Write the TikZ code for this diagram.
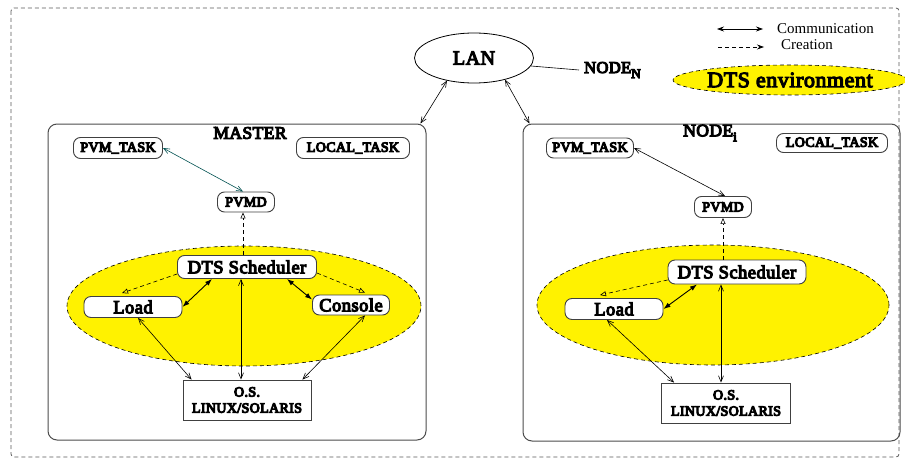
\documentclass[tikz,border=0pt]{standalone}
\usepackage{fontspec}
\setmainfont{Liberation Serif}
\newfontfamily\heavyface{Liberation Serif}[LetterSpace=2.5]
% heavy text: regular outlines filled and stroked (render mode 2)
\newcommand\heavy[1]{\heavyface\fontsize{#1}{#1}\selectfont\special{pdf:literal direct 2 Tr 1.1 w}}
\usetikzlibrary{arrows.meta,shapes.geometric,calc}

\begin{document}
\begin{tikzpicture}[x=1pt,y=-1pt,
  box/.style={draw=black!75,line width=0.9pt,rounded corners=7pt,fill=white,inner sep=0pt,
    font=\heavy{14}},
  bigbox/.style={box,font=\heavy{18.5}},
  host/.style={draw=black!70,line width=1pt,rounded corners=9pt,inner sep=0pt},
  osbox/.style={draw=black!75,line width=0.9pt,fill=white,inner sep=0pt,align=center,
    font=\heavy{14}\linespread{1.15}\selectfont},
  env/.style={ellipse,draw,dash pattern=on 4pt off 3pt,fill=yellow,line width=0.6pt,inner sep=0pt},
  title/.style={font=\heavy{17.5},inner sep=0pt},
  comm/.style={line width=0.6pt,{Straight Barb[length=6pt,width=5pt]}-{Straight Barb[length=6pt,width=5pt]}},
  commb/.style={line width=0.9pt,{Latex[length=7pt,width=5pt]}-{Latex[length=7pt,width=5pt]}},
  crea/.style={line width=0.6pt,dash pattern=on 4pt off 3pt,-{Triangle[open,length=6pt,width=5pt]}},
]
\useasboundingbox (0,0) rectangle (905,460);

% outer frame
\draw[black!65,line width=0.8pt,dash pattern=on 4pt off 3pt,rounded corners=3pt] (11,8) rectangle (899,457);

% legend
\coordinate (lc1) at (717,29);
\coordinate (lc2) at (763,29);
\coordinate (lr1) at (718,47);
\coordinate (lr2) at (764,47);
\draw[line width=0.7pt,{Stealth[length=7pt,width=5pt]}-{Stealth[length=7pt,width=5pt]}] (lc1) -- (lc2);
\draw[line width=0.7pt,dash pattern=on 4pt off 3pt,-{Stealth[length=7pt,width=5pt]}] (lr1) -- (lr2);
\node[anchor=west,inner sep=0pt,font=\fontsize{15}{15}\selectfont] (lcomm) at (777,29) {Communication};
\node[anchor=west,inner sep=0pt,font=\fontsize{15}{15}\selectfont] (lcrea) at (781,45) {Creation};
\node[env,minimum width=220pt,minimum height=30pt,font=\heavy{22}] (lenv) at (790,80) {DTS environment};

% LAN
\node[ellipse,draw,line width=0.8pt,minimum width=119pt,minimum height=50pt,inner sep=0pt,
  font=\heavy{20}] (lan) at (474,58) {LAN};
\node[anchor=west,inner sep=0pt,font=\heavy{16.5}] (noden) at (584,70)
  {NODE\raisebox{-5pt}{\fontsize{13}{13}\selectfont N}};
\draw[line width=0.6pt] (lan.-8) -- ([xshift=-5pt]noden.west);

% hosts
\node[host,minimum width=378pt,minimum height=316pt] (master) at (237,282) {};
\node[host,minimum width=377pt,minimum height=317pt] (nodei) at (711.5,282.5) {};
\node[title] (mtitle) at (250,133) {MASTER};
\node[title] (ntitle) at (710,133) {NODE\raisebox{-5pt}{\fontsize{13}{13}\selectfont i}};

\draw[comm] (lan.-140) -- ([xshift=-6pt]master.north east);
\draw[comm] (lan.-35) -- ([xshift=7pt]nodei.north west);

% ---- master contents
\node[env,minimum width=354pt,minimum height=120pt] (envM) at (244,306) {};
\node[box,minimum width=89pt,minimum height=21pt] (ptM) at (118,148) {PVM\_TASK};
\node[box,minimum width=113pt,minimum height=21pt] (ltM) at (353,148) {LOCAL\_TASK};
\node[box,minimum width=57pt,minimum height=20pt] (pvmdM) at (246,202) {PVMD};
\node[bigbox,minimum width=139pt,minimum height=23pt] (schedM) at (247,267) {DTS Scheduler};
\node[bigbox,minimum width=98pt,minimum height=21pt] (loadM) at (133,307) {Load};
\node[bigbox,minimum width=77pt,minimum height=20pt] (consM) at (351,305) {Console};
\node[osbox,minimum width=128pt,minimum height=40pt] (osM) at (247,400) {O.S.\\LINUX/SOLARIS};

\draw[comm,draw={rgb,255:red,0;green,80;blue,80}] (ptM.east) -- ([xshift=-3pt]pvmdM.north);
\draw[crea] (schedM.north -| pvmdM.south) ++(-3,0) -- ([xshift=-3pt]pvmdM.south);
\draw[crea] ([yshift=-7pt]schedM.west) -- ([xshift=-11pt,yshift=3pt]loadM.north);
\draw[commb] ([xshift=-35pt]schedM.south) -- (loadM.east);
\draw[comm] ([xshift=-6pt]schedM.south) -- ([xshift=-6pt]osM.north);
\draw[commb] ([xshift=40pt]schedM.south) -- ([yshift=-5pt]consM.north west);
\draw[crea] ([yshift=-6pt]schedM.east) -- ([xshift=14pt,yshift=2pt]consM.north);
\draw[comm] ([xshift=5pt]loadM.south) -- ([xshift=9pt]osM.north west);
\draw[comm] ([xshift=14pt]consM.south) -- ([xshift=-9pt]osM.north east);

% ---- node i contents
\node[env,minimum width=352pt,minimum height=120pt] (envN) at (713,305) {};
\node[box,minimum width=87pt,minimum height=20pt] (ptN) at (590,148) {PVM\_TASK};
\node[box,minimum width=111pt,minimum height=19pt] (ltN) at (832,143) {LOCAL\_TASK};
\node[box,minimum width=57pt,minimum height=21pt] (pvmdN) at (723,207) {PVMD};
\node[bigbox,minimum width=138pt,minimum height=24pt] (schedN) at (737,272) {DTS Scheduler};
\node[bigbox,minimum width=98pt,minimum height=21pt] (loadN) at (614,309) {Load};
\node[osbox,minimum width=129pt,minimum height=40pt] (osN) at (726,403) {O.S.\\LINUX/SOLARIS};

\draw[comm] (ptN.east) -- ([xshift=2pt]pvmdN.north);
\draw[crea] (pvmdN.south |- schedN.north) -- (pvmdN.south);
\draw[crea] ([yshift=-8pt]schedN.west) -- ([xshift=-14pt,yshift=3pt]loadN.north);
\draw[commb] ([xshift=-40pt]schedN.south) -- (loadN.east);
\draw[comm] ([xshift=-16pt]schedN.south) -- ([xshift=-5pt]osN.north);
\draw[comm] ([xshift=-7pt]loadN.south) -- ([xshift=13pt]osN.north west);
\end{tikzpicture}
\end{document}
